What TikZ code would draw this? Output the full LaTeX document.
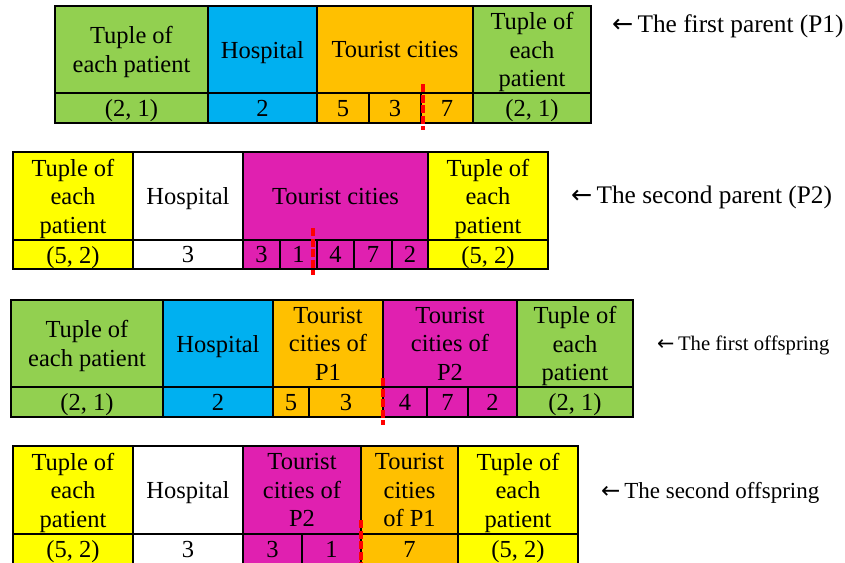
\documentclass[tikz,border=0pt]{standalone}
\usepackage{fontspec}
\setmainfont{Liberation Serif}
\newfontfamily\arrowfont{DejaVu Sans}
\definecolor{cgreen}{HTML}{92D050}
\definecolor{cblue}{HTML}{00B0F0}
\definecolor{corange}{HTML}{FFC000}
\definecolor{cmag}{RGB}{224,32,176}
\definecolor{cyellow}{HTML}{FFFF00}
\tikzset{
  cell/.style={draw=black,line width=1.8pt,inner sep=0pt,outer sep=0pt,align=center,
    font=\fontsize{24.5}{28.5}\selectfont,text=black,text depth=0pt},
  cutline/.style={draw=red,line width=3.2pt,dash pattern=on 8pt off 2.5pt},
  lbl/.style={inner sep=0pt,anchor=west,text=black},
}
\newcommand{\mkcell}[7]{\node[cell,fill=#6,minimum width={(#4-#2)*1pt},minimum height={(#5-#3)*1pt}] (#1) at ({(#2+#4)/2},{(#3+#5)/2}) {#7};}
\begin{document}
\begin{tikzpicture}[x=1pt,y=-1pt]
\useasboundingbox[fill=white] (0,0) rectangle (845,562);
% ---- first parent
\mkcell{aA}{55}{6}{208}{93}{cgreen}{Tuple of\\each patient}
\mkcell{aB}{208}{6}{317}{93}{cblue}{Hospital}
\mkcell{aC}{317}{6}{473}{93}{corange}{Tourist cities}
\mkcell{aD}{473}{6}{591}{93}{cgreen}{Tuple of\\each\\patient}
\mkcell{av1}{55}{93}{208}{123}{cgreen}{(2, 1)}
\mkcell{av2}{208}{93}{317}{123}{cblue}{2}
\mkcell{av3}{317}{93}{369}{123}{corange}{5}
\mkcell{av4}{369}{93}{421}{123}{corange}{3}
\mkcell{av5}{421}{93}{473}{123}{corange}{7}
\mkcell{av6}{473}{93}{591}{123}{cgreen}{(2, 1)}
\coordinate (c1t) at (423,84);
\coordinate (c1b) at (423,130);
\draw[cutline] (c1t) -- (c1b);
% ---- second parent
\mkcell{bA}{13}{152}{133}{240}{cyellow}{Tuple of\\each\\patient}
\mkcell{bB}{133}{152}{243}{240}{white}{Hospital}
\mkcell{bC}{243}{152}{428}{240}{cmag}{Tourist cities}
\mkcell{bD}{428}{152}{548}{240}{cyellow}{Tuple of\\each\\patient}
\mkcell{bv1}{13}{240}{133}{269}{cyellow}{(5, 2)}
\mkcell{bv2}{133}{240}{243}{269}{white}{3}
\mkcell{bv3}{243}{240}{280}{269}{cmag}{3}
\mkcell{bv4}{280}{240}{317}{269}{cmag}{1}
\mkcell{bv5}{317}{240}{354}{269}{cmag}{4}
\mkcell{bv6}{354}{240}{392}{269}{cmag}{7}
\mkcell{bv7}{392}{240}{428}{269}{cmag}{2}
\mkcell{bv8}{428}{240}{548}{269}{cyellow}{(5, 2)}
\coordinate (c2t) at (313,228);
\coordinate (c2b) at (313,275);
\draw[cutline] (c2t) -- (c2b);
% ---- first offspring
\mkcell{cA}{11}{300}{163}{387}{cgreen}{Tuple of\\each patient}
\mkcell{cB}{163}{300}{273}{387}{cblue}{Hospital}
\mkcell{cC}{273}{300}{383}{387}{corange}{Tourist\\cities of\\P1}
\mkcell{cD}{383}{300}{517}{387}{cmag}{Tourist\\cities of\\P2}
\mkcell{cE}{517}{300}{633}{387}{cgreen}{Tuple of\\each\\patient}
\mkcell{cv1}{11}{387}{163}{417}{cgreen}{(2, 1)}
\mkcell{cv2}{163}{387}{273}{417}{cblue}{2}
\mkcell{cv3}{273}{387}{309}{417}{corange}{5}
\mkcell{cv4}{309}{387}{383}{417}{corange}{3}
\mkcell{cv5}{383}{387}{427}{417}{cmag}{4}
\mkcell{cv6}{427}{387}{468}{417}{cmag}{7}
\mkcell{cv7}{468}{387}{517}{417}{cmag}{2}
\mkcell{cv8}{517}{387}{633}{417}{cgreen}{(2, 1)}
\coordinate (c3t) at (383,378);
\coordinate (c3b) at (383,425);
\draw[cutline] (c3t) -- (c3b);
% ---- second offspring
\mkcell{dA}{13}{446}{133}{534}{cyellow}{Tuple of\\each\\patient}
\mkcell{dB}{133}{446}{243}{534}{white}{Hospital}
\mkcell{dC}{243}{446}{361}{534}{cmag}{Tourist\\cities of\\P2}
\mkcell{dD}{361}{446}{458}{534}{corange}{Tourist\\cities\\of P1}
\mkcell{dE}{458}{446}{578}{534}{cyellow}{Tuple of\\each\\patient}
\mkcell{dv1}{13}{534}{133}{564}{cyellow}{(5, 2)}
\mkcell{dv2}{133}{534}{243}{564}{white}{3}
\mkcell{dv3}{243}{534}{302}{564}{cmag}{3}
\mkcell{dv4}{302}{534}{361}{564}{cmag}{1}
\mkcell{dv5}{361}{534}{458}{564}{corange}{7}
\mkcell{dv6}{458}{534}{578}{564}{cyellow}{(5, 2)}
\coordinate (c4t) at (361,520);
\coordinate (c4b) at (361,566);
\draw[cutline] (c4t) -- (c4b);
% ---- labels
\node[lbl,font=\fontsize{25.3}{29}\selectfont] (l1) at (612,26) {{\arrowfont ←}\,The first parent (P1)};
\node[lbl,font=\fontsize{25.3}{29}\selectfont] (l2) at (571,197) {{\arrowfont ←}\,The second parent (P2)};
\node[lbl,font=\fontsize{20.7}{24}\selectfont] (l3) at (657,345) {{\arrowfont ←}\,The first offspring};
\node[lbl,font=\fontsize{23}{27}\selectfont] (l4) at (601,493) {{\arrowfont ←}\,The second offspring};
\end{tikzpicture}
\end{document}
